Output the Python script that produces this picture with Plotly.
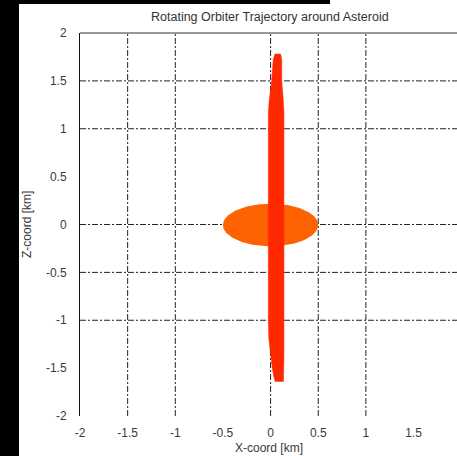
import numpy as np
import plotly.graph_objects as go

# ---- data ----
title_text = "Rotating Orbiter Trajectory around Asteroid"
x_title = "X-coord [km]"
z_title = "Z-coord [km]"

x_ticks = [-2, -1.5, -1, -0.5, 0, 0.5, 1, 1.5]
x_tick_labels = ["-2", "-1.5", "-1", "-0.5", "0", "0.5", "1", "1.5"]
z_ticks = [-2, -1.5, -1, -0.5, 0, 0.5, 1, 1.5, 2]
z_tick_labels = ["-2", "-1.5", "-1", "-0.5", "0", "0.5", "1", "1.5", "2"]

grid_x = [-1.5, -1, 0, 0.5, 1]
grid_z = [1.5, 1, 0, -0.5, -1]

# orbiter trajectory envelope (outline, km)
traj_x = [0.045, 0.105, 0.117, 0.117, 0.133, 0.14, 0.14, 0.135, 0.135, 0.047,
          0.036, 0.018, 0.005, -0.006, -0.018, -0.024, -0.024, -0.014,
          0.011, 0.027, 0.045]
traj_z = [1.78, 1.78, 1.72, 1.5, 1.3, 1.17, -1.4, -1.5, -1.64, -1.64,
          -1.6, -1.5, -1.4, -1.3, -1.2, -1.0, 1.17, 1.3,
          1.5, 1.72, 1.78]

# asteroid cross-section (ellipse)
ast_center = (0.0, -0.005)
ast_semi_axes = (0.5, 0.222)

x_range = [-2, 1.956]
z_range = [-2, 2]

# ---- figure ----
theta = np.linspace(0, 2 * np.pi, 181)
ast_x = ast_center[0] + ast_semi_axes[0] * np.cos(theta)
ast_z = ast_center[1] + ast_semi_axes[1] * np.sin(theta)

fig = go.Figure()
fig.add_trace(go.Scatter(x=ast_x, y=ast_z, mode="lines", fill="toself",
                         fillcolor="#ff6200", line=dict(width=0, color="#ff6200"),
                         hoverinfo="skip", showlegend=False))
fig.add_trace(go.Scatter(x=traj_x, y=traj_z, mode="lines", fill="toself",
                         fillcolor="#ff2800", line=dict(width=0.5, color="#ff2800"),
                         hoverinfo="skip", showlegend=False))

L, R, T, B = 80, 0, 33, 40
W, H = 457, 456
pw, ph = W - L - R, H - T - B

def px_to_paper_x(px):
    return (px - L) / pw

def px_to_paper_y(py):
    return (H - B - py) / ph

shapes = []
# black page with white sheet
shapes.append(dict(type="rect", xref="paper", yref="paper",
                   x0=px_to_paper_x(19), x1=px_to_paper_x(460),
                   y0=px_to_paper_y(460), y1=px_to_paper_y(4),
                   fillcolor="white", line=dict(width=0), layer="below"))
shapes.append(dict(type="rect", xref="paper", yref="paper",
                   x0=px_to_paper_x(330), x1=px_to_paper_x(460),
                   y0=px_to_paper_y(10), y1=px_to_paper_y(-2),
                   fillcolor="white", line=dict(width=0), layer="below"))
grid_style = dict(color="#222222", width=1, dash="6px,2px,2px,2px")
for gx in grid_x:
    shapes.append(dict(type="line", xref="x", yref="paper", x0=gx, x1=gx,
                       y0=0, y1=1, line=grid_style, layer="below"))
for gz in grid_z:
    shapes.append(dict(type="line", xref="paper", yref="y", x0=0, x1=1,
                       y0=gz, y1=gz, line=grid_style, layer="below"))
# top border
shapes.append(dict(type="line", xref="paper", yref="paper", x0=0, x1=1,
                   y0=1, y1=1, line=dict(color="#333333", width=1)))

font = dict(family="Liberation Sans, Arial, sans-serif", size=12, color="#3a3a3a")

annotations = [
    dict(text=title_text, xref="paper", yref="paper",
         x=px_to_paper_x(270), y=px_to_paper_y(17), showarrow=False,
         xanchor="center", yanchor="middle",
         font=dict(family="Liberation Sans, Arial, sans-serif", size=12.5, color="#333333")),
    dict(text=x_title, xref="paper", yref="paper",
         x=px_to_paper_x(269), y=px_to_paper_y(448), showarrow=False,
         xanchor="center", yanchor="middle", font=font),
    dict(text=z_title, xref="paper", yref="paper",
         x=px_to_paper_x(27), y=px_to_paper_y(225), showarrow=False,
         xanchor="center", yanchor="middle", textangle=-90, font=font),
]

fig.update_layout(
    width=W, height=H,
    margin=dict(l=L, r=R, t=T, b=B, pad=0),
    paper_bgcolor="black", plot_bgcolor="rgba(0,0,0,0)",
    shapes=shapes, annotations=annotations,
    showlegend=False,
    xaxis=dict(range=x_range, tickvals=x_ticks, ticktext=x_tick_labels,
               showgrid=False, zeroline=False, showline=False, ticks="",
               ticklabelstandoff=8, tickfont=font, fixedrange=True),
    yaxis=dict(range=z_range, tickvals=z_ticks, ticktext=z_tick_labels,
               showgrid=False, zeroline=False, showline=True,
               linecolor="#111111", linewidth=1, ticks="",
               ticklabelstandoff=10, tickfont=font, fixedrange=True),
)

fig.write_html("out.html", config=dict(displayModeBar=False))
